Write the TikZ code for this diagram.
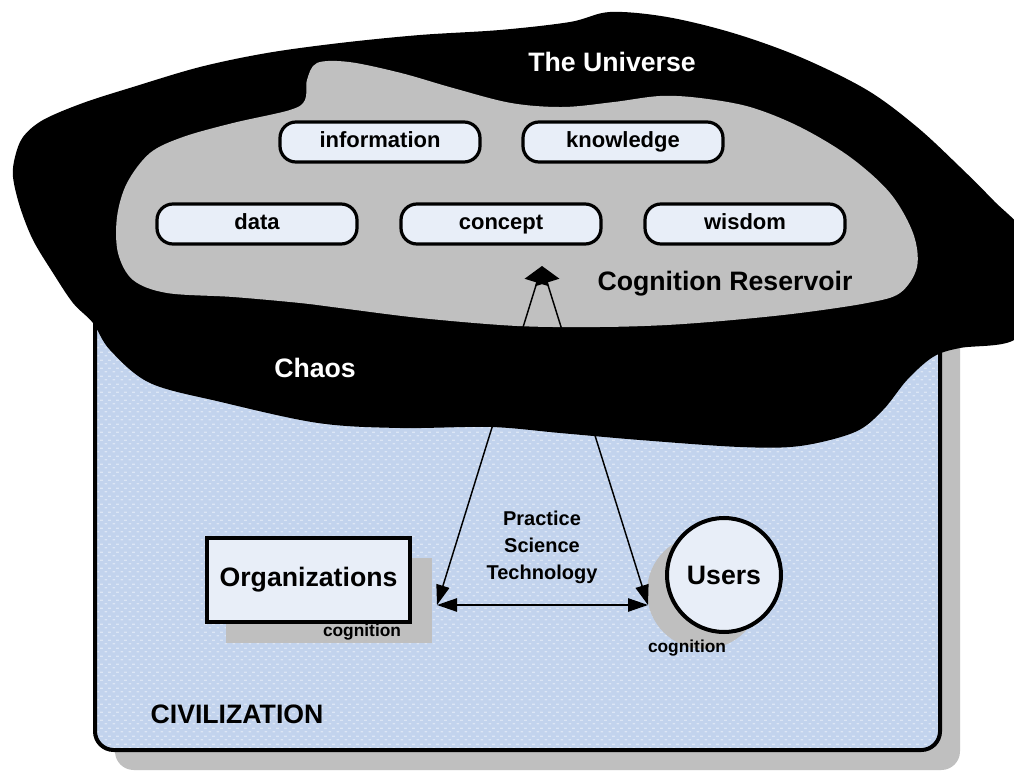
\documentclass[tikz,border=0pt]{standalone}
\usepackage{fontspec}
\setmainfont{Liberation Sans}
\usetikzlibrary{arrows.meta,patterns.meta}
\definecolor{civblue}{HTML}{C2D3ED}
\definecolor{civdot}{HTML}{DCE6F5}
\definecolor{pillfill}{HTML}{E8EEF8}
\definecolor{shadowgray}{HTML}{BFBFBF}
\definecolor{resgray}{HTML}{C0C0C0}
\tikzdeclarepattern{name=civdash, type=uncolored,
  bottom left={(0pt,0pt)}, top right={(6pt,6pt)}, tile size={(6pt,6pt)},
  code={\pgfpathrectangle{\pgfpoint{0.5pt}{0.5pt}}{\pgfpoint{2.2pt}{1pt}}
        \pgfpathrectangle{\pgfpoint{3.5pt}{3.5pt}}{\pgfpoint{2.2pt}{1pt}}
        \pgfusepath{fill}}}
\begin{document}
\begin{tikzpicture}[x=0.75pt,y=-0.75pt,
  pill/.style={draw=black, line width=2.4pt, fill=pillfill, rounded corners=12pt,
    minimum width=150pt, minimum height=30pt, inner sep=0pt,
    text height=11.5pt, text depth=3.5pt,
    font=\bfseries\fontsize{16.5}{18}\selectfont},
  lbl/.style={font=\bfseries\fontsize{20}{24}\selectfont, inner sep=0pt},
  whitelbl/.style={lbl, text=white},
  smalllbl/.style={font=\bfseries\fontsize{13}{15}\selectfont, inner sep=0pt},
  conn/.style={line width=1.1pt},
]
\useasboundingbox (0,0) rectangle (1014,773);
\clip (0,0) rectangle (1014,773);
\fill[white] (0,0) rectangle (1014,773);

% civilization box with shadow
\fill[shadowgray, rounded corners=14pt] (115,312) rectangle (960,770);
\fill[civblue, rounded corners=14pt] (95,290) rectangle (940,750);
\fill[pattern={civdash}, pattern color=civdot, rounded corners=14pt] (95,290) rectangle (940,750);
\draw[line width=3pt, rounded corners=14pt] (95,290) rectangle (940,750);

% the universe (black)
\fill[black] plot[smooth cycle, tension=0.55] coordinates {
 (610,12) (667,17) (733,33) (800,57) (867,90) (917,127) (960,167) (993,200)
 (1030,240) (1040,300) (1014,340) (960,348) (933,357) (907,380) (883,410) (855,432)
 (800,446) (740,447) (640,440) (560,433) (491,427) (400,428) (318,423) (221,402)
 (150,383) (110,350) (93,323) (73,303) (53,273) (33,240) (20,207) (13,177)
 (15,157) (23,137) (43,120) (83,103) (133,87) (200,67) (267,53) (340,43)
 (420,35) (500,30) (570,22)};

% cognition reservoir (gray)
\fill[resgray] plot[smooth cycle, tension=0.55] coordinates {
 (317,63) (349,62) (401,73) (453,88) (511,103) (563,107) (614,102) (660,96)
 (700,98) (750,107) (800,127) (850,157) (890,193) (913,233) (917,267) (900,293)
 (867,303) (800,313) (733,320) (667,325) (600,327) (517,326) (420,318) (340,308)
 (300,303) (233,297) (167,293) (133,280) (118,253) (117,217) (127,183) (150,153)
 (183,137) (233,123) (290,110) (305,100) (307,80)};

% pills
\node[pill] (information) at (380,142) {information};
\node[pill] (knowledge) at (623,142) {knowledge};
\node[pill] (data) at (257,224) {data};
\node[pill] (concept) at (501,224) {concept};
\node[pill] (wisdom) at (745,224) {wisdom};

% organizations
\node[fill=shadowgray, minimum width=154.5pt, minimum height=63.75pt, inner sep=0pt] (orgshadow) at (329,600.5) {};
\node[draw=black, line width=3pt, fill=pillfill, minimum width=152pt, minimum height=63pt, inner sep=0pt,
  text height=14pt, text depth=4pt,
  font=\bfseries\fontsize{20}{24}\selectfont] (org) at (308.5,580) {Organizations};
\node[smalllbl] (orgcog) at (362,632) {cognition};

% users
\node[circle, fill=shadowgray, minimum size=85.5pt, inner sep=0pt] (usershadow) at (704,592) {};
\node[circle, draw=black, line width=3pt, fill=pillfill, minimum size=85.5pt, inner sep=0pt,
  font=\bfseries\fontsize{20}{24}\selectfont] (users) at (724,575) {Users};
\node[smalllbl] (usercog) at (687,648) {cognition};

% connectors
\coordinate (apex) at (542,266);
\coordinate (oc) at (437,605);
\coordinate (uc) at (648,605);
\draw[conn, {Triangle[length=13pt,width=19pt]}-{Triangle[length=15pt,width=10pt]}] (apex) -- (oc);
\draw[conn, {Triangle[length=13pt,width=19pt]}-{Triangle[length=15pt,width=10pt]}] (apex) -- (uc);
\draw[conn, {Triangle[length=15pt,width=10pt]}-{Triangle[length=15pt,width=10pt]}] (oc) -- (uc);

% labels
\node[whitelbl] (universe) at (612,62) {The Universe};
\node[lbl] (reservoir) at (725,284) {Cognition Reservoir};
\node[whitelbl] (chaos) at (315,368) {Chaos};
\node[lbl] (civ) at (237,714) {CIVILIZATION};
\node[font=\bfseries\fontsize{15}{20.25}\selectfont, align=center, inner sep=0pt] (pst) at (542,547)
  {Practice\\Science\\Technology};
\end{tikzpicture}
\end{document}
